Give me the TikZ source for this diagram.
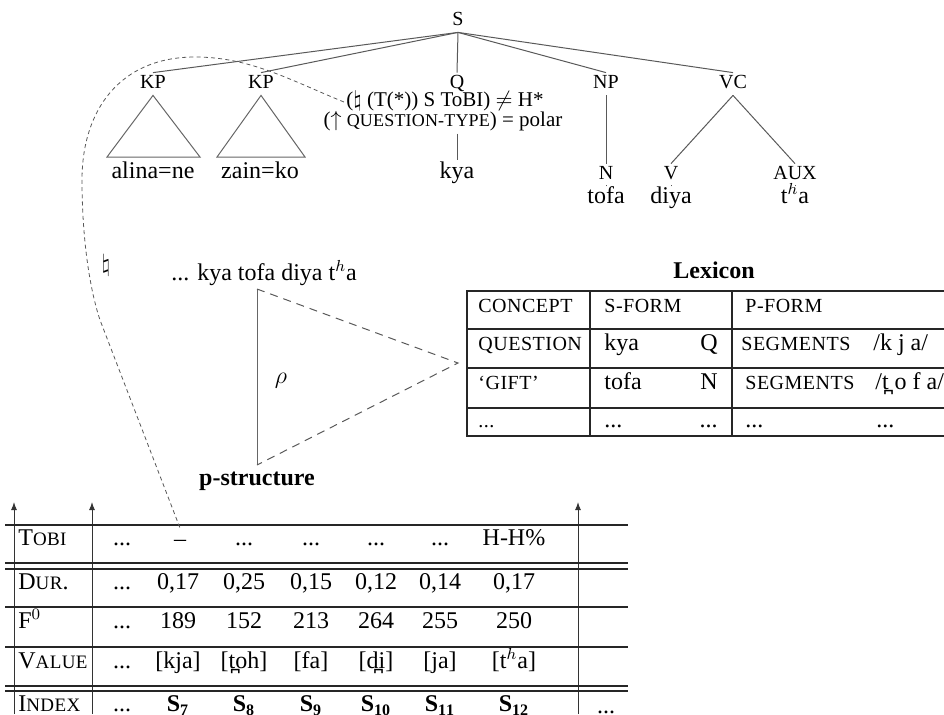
\documentclass[tikz,border=0pt]{standalone}
\usepackage{fontspec}
\setmainfont{Liberation Serif}
\usetikzlibrary{arrows.meta}
\newcommand{\smc}[1]{{\fontsize{10}{11}\selectfont\addfontfeature{LetterSpace=2.5}#1}}
\newcommand{\tsc}[1]{{\fontsize{9.5}{11}\selectfont\addfontfeature{LetterSpace=2}#1}}
\newcommand{\qsc}[1]{{\fontsize{9}{11}\selectfont\addfontfeature{LetterSpace=1}#1}}
\begin{document}
\begin{tikzpicture}[x=0.5pt,y=-0.5pt,
  every node/.style={inner sep=1pt},
  cat/.style={font=\fontsize{10}{12}\selectfont, text height=6.8pt, text depth=2.2pt},
  word/.style={font=\fontsize{12}{14}\selectfont, text height=8pt, text depth=2.6pt},
  ann/.style={font=\fontsize{10.5}{12}\selectfont, text height=7pt, text depth=2.3pt},
  tl/.style={draw=black!65, line width=0.5pt},
  rule/.style={draw=black!85, line width=0.6pt},
  tri/.style={draw=black!60, line width=0.5pt},
  rhodash/.style={draw=black!65, line width=0.5pt, dash pattern=on 4pt off 3pt},
  curvedash/.style={draw=black!65, line width=0.4pt, dash pattern=on 2pt off 1.6pt},
  axis/.style={draw=black!80, line width=0.5pt, -{Latex[length=4pt,width=3pt]}},
  cell/.style={word},
  lx/.style={word, anchor=west},
  lxr/.style={word, anchor=east},
  bold12/.style={word, font=\fontsize{12}{14}\selectfont\bfseries}]
\useasboundingbox (0,0) rectangle (944,714);

% ---------- tree ----------
\node[cat] (S) at (458,21) {S};
\node[cat] (KP1) at (153,84) {KP};
\node[cat] (KP2) at (261,84) {KP};
\node[cat] (Q) at (457,84) {Q};
\node[cat] (NP) at (606,84) {NP};
\node[cat] (VC) at (733,84) {VC};
\foreach \n in {KP1,KP2,Q,NP,VC} \draw[tl] (S.south) -- (\n.north);

\node[ann] (ann1) at (445,102) {($\natural$ (T(*)) S ToBI) $\neq$ H*};
\node[ann] (ann2) at (443,122) {($\uparrow$ \qsc{QUESTION-TYPE}) = polar};

\coordinate (t1l) at (107,157); \coordinate (t1r) at (200,157);
\coordinate (t2l) at (217,157); \coordinate (t2r) at (305,157);
\draw[tri] (KP1.south) -- (t1l) -- (t1r) -- cycle;
\draw[tri] (KP2.south) -- (t2l) -- (t2r) -- cycle;
\node[word] (w1) at (153,173) {alina=ne};
\node[word] (w2) at (260,173) {zain=ko};
\node[word] (kya) at (457,173) {kya};
\draw[tl] (ann2.south -| kya) -- (kya.north);

\node[cat] (N) at (606,175) {N};
\node[word] (tofa) at (606,198) {tofa};
\draw[tl] (NP.south) -- (N.north);
\draw[tl] (N.south) -- (tofa.north);

\node[cat] (V) at (671,175) {V};
\node[word] (diya) at (671,198) {diya};
\node[cat] (AUX) at (795,175) {AUX};
\node[word] (tha) at (795,198) {t$^h$a};
\draw[tl] (VC.south) -- (V.north);
\draw[tl] (VC.south) -- (AUX.north);
\draw[tl] (V.south) -- (diya.north);
\draw[tl] (AUX.south) -- (tha.north);

% ---------- natural sign ----------
\node[word] (nat) at (106,266) {$\natural$};

% ---------- p-structure ----------
\node[word] (pstr) at (264,275) {... kya tofa diya t$^h$a};
\coordinate (pt) at (257,289);
\coordinate (pb) at (257,465);
\coordinate (pr) at (458,363);
\draw[tri] (pt) -- (pb);
\draw[rhodash] (pt) -- (pr) -- (pb);
\node[word] (rho) at (281,378) {$\rho$};
\node[bold12] (plab) at (257,480) {p-structure};

% ---------- lexicon ----------
\node[bold12] (lextitle) at (714,273) {Lexicon};
\draw[rule] (944,291) -- (467,291) -- (467,436) -- (944,436);
\foreach \yy in {329,368,408} \draw[rule] (467,\yy) -- (944,\yy);
\draw[rule] (590,291) -- (590,436);
\draw[rule] (732,291) -- (732,436);

\node[lx] (c1) at (476,307) {\smc{CONCEPT}};
\node[lx] (c2) at (602,307) {\smc{S-FORM}};
\node[lx] (c3) at (743,307) {\smc{P-FORM}};

\node[lx] (r1a) at (476,345) {\smc{QUESTION}};
\node[lx] (r1b) at (602,345) {kya};
\node[lxr] (r1c) at (720,345) {Q};
\node[lx] (r1d) at (739,345) {\smc{SEGMENTS}};
\node[lx] (r1e) at (871,345) {/k j a/};

\node[lx] (r2a) at (476,384) {\smc{‘GIFT’}};
\node[lx] (r2b) at (602,384) {tofa};
\node[lxr] (r2c) at (720,384) {N};
\node[lx] (r2d) at (743,384) {\smc{SEGMENTS}};
\node[lx] (r2e) at (873,384) {/t̪ o f a/};

\node[lx] (r3a) at (476,422) {\smc{...}};
\node[lx] (r3b) at (602,422) {...};
\node[lxr] (r3c) at (720,422) {...};
\node[lx] (r3d) at (743,422) {...};
\node[lx] (r3e) at (874,422) {...};

% ---------- bottom table ----------
\coordinate (ax1b) at (14,714); \coordinate (ax1t) at (14,502);
\coordinate (ax2b) at (92,714); \coordinate (ax2t) at (92,502);
\coordinate (ax3b) at (578,714); \coordinate (ax3t) at (578,502);
\draw[axis] (ax1b) -- (ax1t);
\draw[axis] (ax2b) -- (ax2t);
\draw[axis] (ax3b) -- (ax3t);

\foreach \yy in {525,563,569,607,647,686,691} \draw[rule] (5,\yy) -- (628,\yy);

\node[cell, anchor=west] (hTobi) at (16,540) {T\tsc{OBI}};
\node[cell, anchor=west] (hDur) at (16,584) {D\tsc{UR}.};
\node[cell, anchor=west] (hF) at (16,623) {F$^0$};
\node[cell, anchor=west] (hVal) at (16,663) {V\tsc{ALUE}};
\node[cell, anchor=west] (hIdx) at (16,706) {I\tsc{NDEX}};

% ToBI row
\node[cell] (tb0) at (122,540) {...};
\node[cell] (tdash) at (180,541) {–};
\node[cell] (tb2) at (244,540) {...};
\node[cell] (tb3) at (311,540) {...};
\node[cell] (tb4) at (376,540) {...};
\node[cell] (tb5) at (440,540) {...};
\node[cell] (tb6) at (514,540) {H-H\%};
% Dur row
\node[cell] (d0) at (122,584) {...};
\node[cell] (d1) at (178,584) {0,17};
\node[cell] (d2) at (244,584) {0,25};
\node[cell] (d3) at (311,584) {0,15};
\node[cell] (d4) at (376,584) {0,12};
\node[cell] (d5) at (440,584) {0,14};
\node[cell] (d6) at (514,584) {0,17};
% F0 row
\node[cell] (f0) at (122,623) {...};
\node[cell] (f1) at (178,623) {189};
\node[cell] (f2) at (244,623) {152};
\node[cell] (f3) at (311,623) {213};
\node[cell] (f4) at (376,623) {264};
\node[cell] (f5) at (440,623) {255};
\node[cell] (f6) at (514,623) {250};
% Value row
\node[cell] (v0) at (122,663) {...};
\node[cell] (v1) at (178,663) {[kja]};
\node[cell] (v2) at (244,663) {[t̪oh]};
\node[cell] (v3) at (311,663) {[fa]};
\node[cell] (v4) at (376,663) {[d̪i]};
\node[cell] (v5) at (440,663) {[ja]};
\node[cell] (v6) at (514,663) {[t$^h$a]};
% Index row
\node[cell] (i0) at (122,706) {...};
\node[cell] (i1) at (178,706) {$\mathbf{S}_{\mathbf{7}}$};
\node[cell] (i2) at (244,706) {$\mathbf{S}_{\mathbf{8}}$};
\node[cell] (i3) at (311,706) {$\mathbf{S}_{\mathbf{9}}$};
\node[cell] (i4) at (376,706) {$\mathbf{S}_{\mathbf{10}}$};
\node[cell] (i5) at (440,706) {$\mathbf{S}_{\mathbf{11}}$};
\node[cell] (i6) at (514,706) {$\mathbf{S}_{\mathbf{12}}$};
\node[cell] (i7) at (606,708) {...};

% ---------- dashed curve ----------
\draw[curvedash] (ann1.west) .. controls (290,80) and (250,57) .. (195,57)
  .. controls (120,57) and (82,110) .. (82,180)
  .. controls (82,240) and (90,290) .. (100,320) -- (tdash.north);
\end{tikzpicture}
\end{document}
